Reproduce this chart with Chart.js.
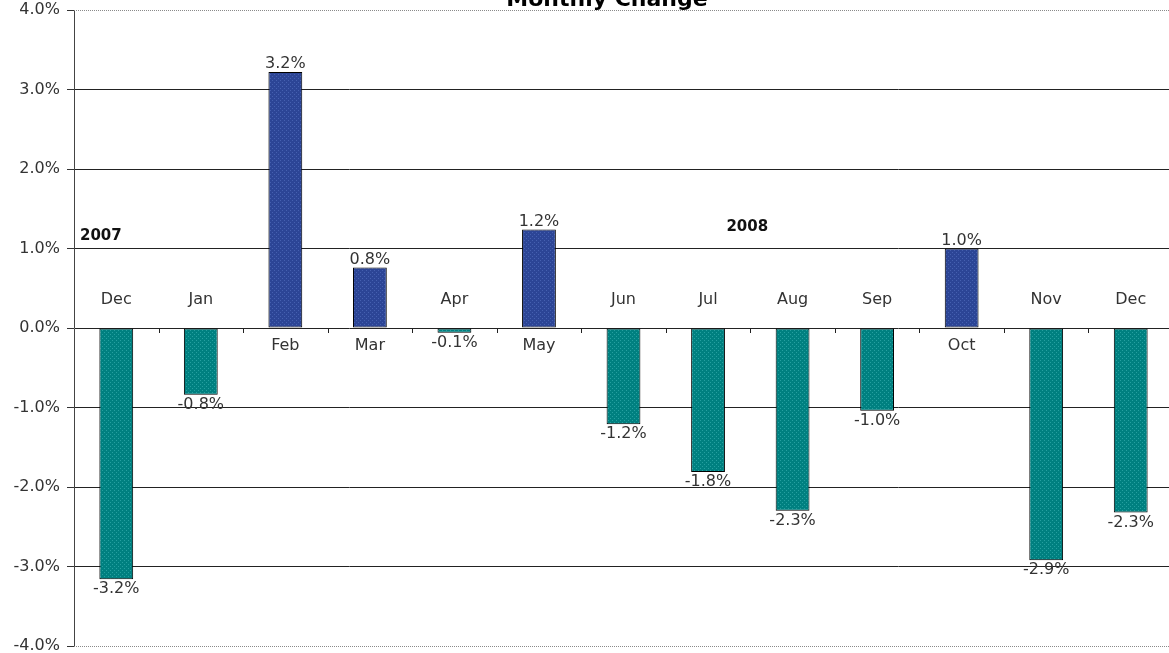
<!DOCTYPE html>
<html>
<head>
<meta charset="utf-8">
<script src="https://cdn.jsdelivr.net/npm/chart.js@4.4.1/dist/chart.umd.min.js"></script>
<style>
  html, body { margin: 0; padding: 0; background: #fff; overflow: hidden; }
  #box { width: 1174px; height: 653px; }
</style>
</head>
<body>
<div id="box"><canvas id="grafico"></canvas></div>
<script>
const tituloGrafico = "Monthly Change";
const meses = ["Dec", "Jan", "Feb", "Mar", "Apr", "May", "Jun", "Jul", "Aug", "Sep", "Oct", "Nov", "Dec"];
const variacao = [-3.16, -0.84, 3.22, 0.76, -0.06, 1.24, -1.21, -1.81, -2.30, -1.04, 1.00, -2.92, -2.32];
const anos = [
  { texto: "2007", mes: 0, valor: 1.15 },
  { texto: "2008", mes: 7.5, valor: 1.27 }
];
const yMin = -4, yMax = 4, yPasso = 1;

function padrao(base, claro) {
  const c = document.createElement("canvas");
  c.width = 4; c.height = 4;
  const g = c.getContext("2d");
  g.fillStyle = base;
  g.fillRect(0, 0, 4, 4);
  g.fillStyle = claro;
  g.fillRect(0, 0, 1, 1);
  g.fillRect(2, 2, 1, 1);
  return g.createPattern(c, "repeat");
}

const azul = padrao("#2c4596", "#4560b0");
const verde = padrao("#008080", "#25a0a0");

const fonte = "DejaVu Sans, Verdana, sans-serif";

const rotulos = {
  id: "rotulos",
  afterDraw(chart) {
    const ctx = chart.ctx;
    const x = chart.scales.x, y = chart.scales.y;
    const area = chart.chartArea;
    const zero = y.getPixelForValue(0);
    ctx.save();

    // linhas pontilhadas no topo e base
    ctx.strokeStyle = "#8a8a8a";
    ctx.lineWidth = 1;
    ctx.setLineDash([1, 1]);
    [yMax, yMin].forEach(v => {
      const py = Math.round(y.getPixelForValue(v)) + 0.5;
      ctx.beginPath();
      ctx.moveTo(area.left, py);
      ctx.lineTo(area.right, py);
      ctx.stroke();
    });
    ctx.setLineDash([]);

    // marcas no eixo zero
    ctx.strokeStyle = "#222";
    for (let i = 1; i < meses.length; i++) {
      const px = Math.round((x.getPixelForValue(i - 1) + x.getPixelForValue(i)) / 2) + 0.5;
      ctx.beginPath();
      ctx.moveTo(px, zero);
      ctx.lineTo(px, zero + 5);
      ctx.stroke();
    }

    // titulo
    ctx.fillStyle = "#000";
    ctx.font = "bold 22px " + fonte;
    ctx.textAlign = "center";
    ctx.textBaseline = "alphabetic";
    ctx.fillText(tituloGrafico, 607, 6);

    ctx.font = "16px " + fonte;
    ctx.fillStyle = "#333";
    ctx.textBaseline = "middle";
    meses.forEach((m, i) => {
      const v = variacao[i];
      const px = x.getPixelForValue(i);
      const topo = y.getPixelForValue(v);
      // mes
      ctx.fillText(m, px, v < 0 ? zero - 28 : zero + 18);
      // valor
      const txt = v.toFixed(1) + "%";
      ctx.fillText(txt, px, v < 0 ? topo + 10 : topo - 8);
    });

    ctx.font = "bold 15px " + fonte;
    ctx.fillStyle = "#111";
    anos.forEach(a => {
      const py = y.getPixelForValue(a.valor);
      if (a.mes === 0) {
        ctx.textAlign = "left";
        ctx.fillText(a.texto, area.left + 6, py);
      } else {
        ctx.textAlign = "center";
        const i0 = Math.floor(a.mes);
        const px = (x.getPixelForValue(i0) + x.getPixelForValue(i0 + 1)) / 2 - 3;
        ctx.fillText(a.texto, px, py);
      }
    });
    ctx.restore();
  }
};

new Chart(document.getElementById("grafico"), {
  type: "bar",
  data: {
    labels: meses,
    datasets: [{
      data: variacao,
      backgroundColor: variacao.map(v => v >= 0 ? azul : verde),
      borderColor: "#000",
      borderWidth: 1,
      borderSkipped: false,
      barPercentage: 0.4,
      categoryPercentage: 1
    }]
  },
  options: {
    responsive: true,
    maintainAspectRatio: false,
    animation: false,
    layout: { padding: { top: 10, bottom: 7, right: 1, left: 0 } },
    plugins: { legend: { display: false }, tooltip: { enabled: false } },
    scales: {
      x: { display: false },
      y: {
        min: yMin,
        max: yMax,
        afterFit(s) { s.width = 74; s.paddingTop = 0; s.paddingBottom = 0; },
        ticks: {
          stepSize: yPasso,
          color: "#333",
          font: { family: fonte, size: 16 },
          padding: 7,
          callback: v => v.toFixed(1) + "%"
        },
        grid: {
          color: c => (c.tick && (c.tick.value === yMax || c.tick.value === yMin)) ? "rgba(0,0,0,0)" : "#222",
          tickColor: "#333",
          tickLength: 7
        },
        border: { color: "#444", width: 1 }
      }
    }
  },
  plugins: [rotulos]
});
</script>
</body>
</html>
